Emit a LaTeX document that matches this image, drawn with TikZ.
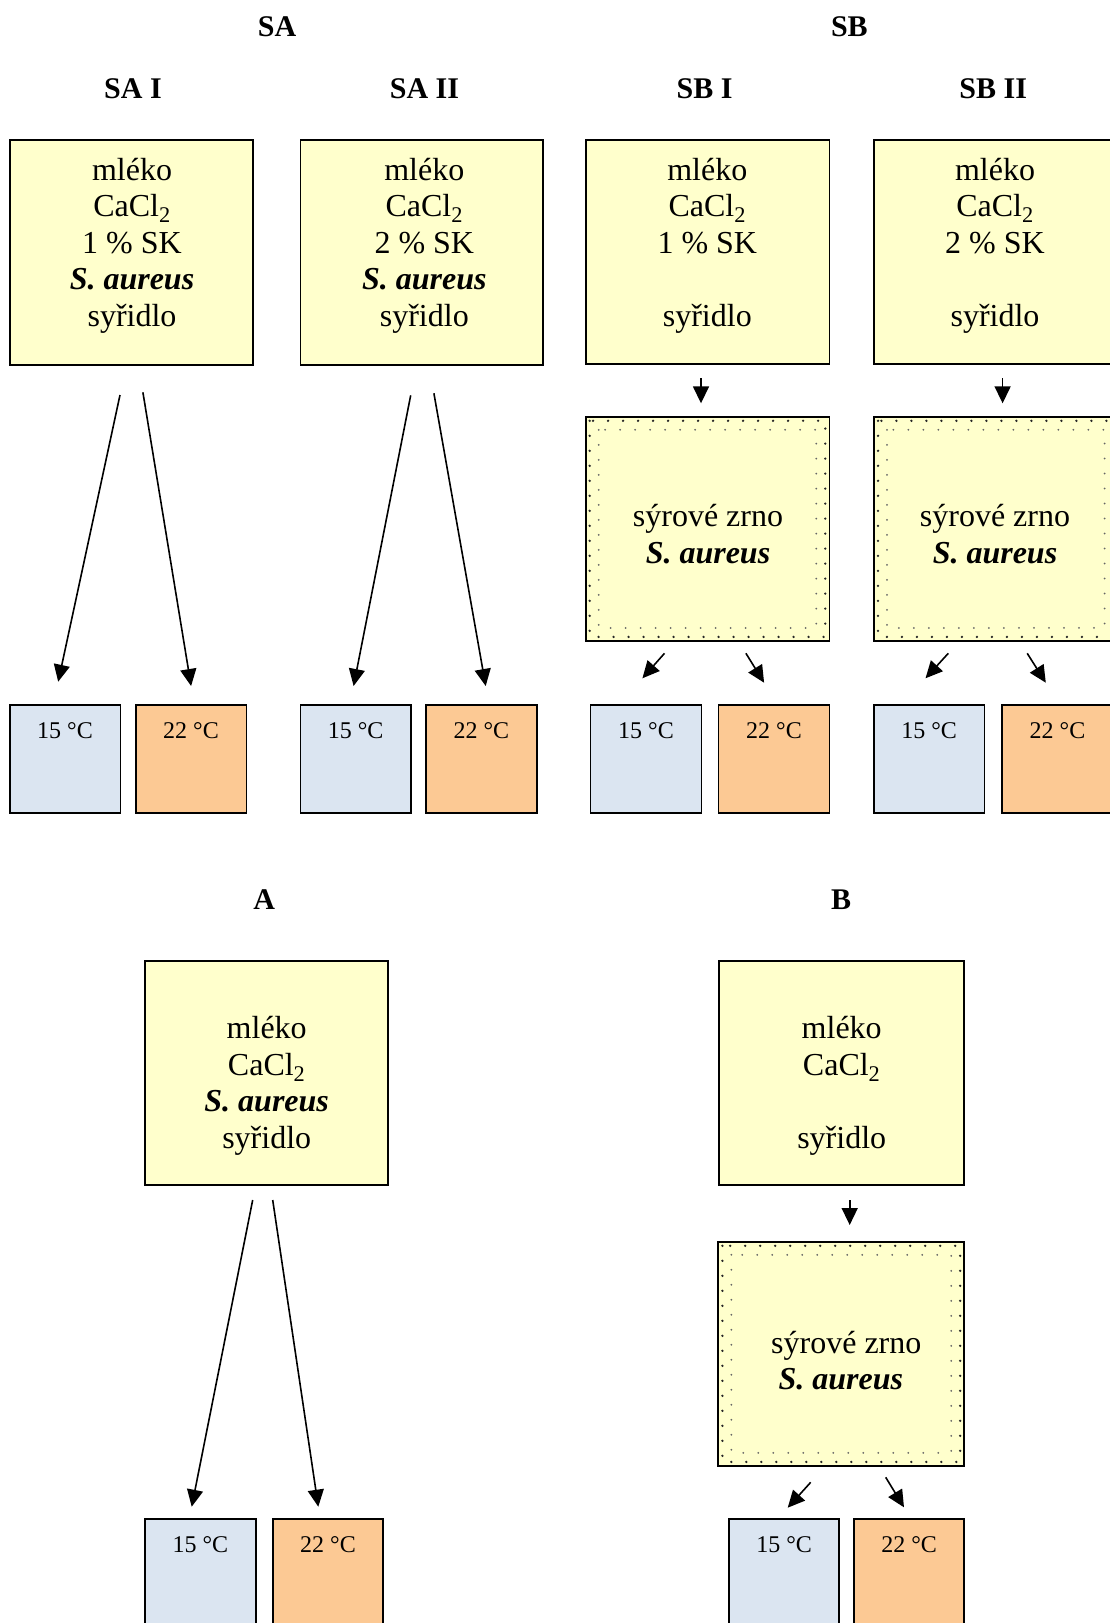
\documentclass[tikz,border=0pt]{standalone}
\usepackage{fontspec}
\setmainfont{Liberation Serif}
\usetikzlibrary{arrows.meta,fit}

\definecolor{milkyellow}{HTML}{FFFFCC}
\definecolor{coolblue}{HTML}{DBE5F1}
\definecolor{warmpeach}{HTML}{FCC994}

% text lines of a box: name, x, first baseline, list of index/text
\newcommand\linesat[4]{%
  \foreach \kk/\txt in {#4}{\node[boxline] (#1-\kk) at (#2,{#3+\kk*36.6}) {\txt};}}

% the two dotted rings inside a curd box
\newcommand\curdrings[1]{%
  \draw[outerdots] ([shift={(5,5)}]#1.north west) rectangle ([shift={(-5,-5)}]#1.south east);
  \draw[innerdots] ([shift={(14,14)}]#1.north west) rectangle ([shift={(-14,-14)}]#1.south east);}

\begin{document}
\begin{tikzpicture}[x=1pt,y=-1pt,
  mixbox/.style={draw, line width=1.8pt, fill=milkyellow, inner sep=0pt},
  coldbox/.style={draw, line width=1.8pt, fill=coolblue, inner sep=0pt},
  warmbox/.style={draw, line width=1.8pt, fill=warmpeach, inner sep=0pt},
  boxline/.style={anchor=base, inner sep=0pt, font=\fontsize{32}{38}\selectfont},
  templabel/.style={anchor=base, inner sep=0pt, font=\fontsize{24}{28}\selectfont},
  heading/.style={anchor=base, inner sep=0pt, font=\fontsize{30}{36}\selectfont\bfseries},
  flow/.style={line width=1.6pt, -{Triangle[length=17pt,width=16pt]}},
  outerdots/.style={line width=2.6pt, line cap=round, dash pattern=on 0pt off 15pt, draw=black!85},
  innerdots/.style={line width=2pt, line cap=round, dash pattern=on 0pt off 15pt, draw=black!60}]

\useasboundingbox (0,0) rectangle (1110,1623);
\clip (0,0) rectangle (1110,1623);

% headings
\node[heading] (tSA) at (277,36) {SA};
\node[heading] (tSB) at (849.4,36) {SB};
\node[heading] (tSA1) at (133,98.3) {SA I};
\node[heading] (tSA2) at (424.5,98.3) {SA II};
\node[heading] (tSB1) at (704.6,98.3) {SB I};
\node[heading] (tSB2) at (993.2,98.3) {SB II};
\node[heading] (tA) at (264.3,909.5) {A};
\node[heading] (tB) at (841,909.5) {B};

% milk mixtures
\node[mixbox, fit={(9.6,140) (252.9,365)}] (sa1) {};
\linesat{sa1}{132}{180}{0/mléko, 1/CaCl\textsubscript{2}, 2/1~\% SK, 3/\textbf{\textit{S. aureus}}, 4/syřidlo}
\node[mixbox, fit={(300.4,140) (543.2,365)}] (sa2) {};
\linesat{sa2}{424.3}{180}{0/mléko, 1/CaCl\textsubscript{2}, 2/2~\% SK, 3/\textbf{\textit{S. aureus}}, 4/syřidlo}
\node[mixbox, fit={(585.6,140) (829.4,364.3)}] (sb1) {};
\linesat{sb1}{707.3}{180}{0/mléko, 1/CaCl\textsubscript{2}, 2/1~\% SK, 4/syřidlo}
\node[mixbox, fit={(873.9,140) (1117.7,364.3)}] (sb2) {};
\linesat{sb2}{995}{180}{0/mléko, 1/CaCl\textsubscript{2}, 2/2~\% SK, 4/syřidlo}
\node[mixbox, fit={(145,960.7) (388.3,1185)}] (ma) {};
\linesat{ma}{266.7}{1038.5}{0/mléko, 1/CaCl\textsubscript{2}, 2/\textbf{\textit{S. aureus}}, 3/syřidlo}
\node[mixbox, fit={(719,960.7) (964.3,1185)}] (mb) {};
\linesat{mb}{841.7}{1038.5}{0/mléko, 1/CaCl\textsubscript{2}, 3/syřidlo}

% curd boxes
\node[mixbox, fit={(585.6,416.7) (829.4,641)}] (sb1g) {};
\curdrings{sb1g}
\linesat{sb1g}{708}{526.7}{0/sýrové zrno, 1/\textbf{\textit{S. aureus}}}
\node[mixbox, fit={(873.9,416.7) (1117.7,641)}] (sb2g) {};
\curdrings{sb2g}
\linesat{sb2g}{995}{526.7}{0/sýrové zrno, 1/\textbf{\textit{S. aureus}}}
\node[mixbox, fit={(718.3,1241.7) (964.3,1466)}] (bg) {};
\curdrings{bg}
\node[boxline] (bg-0) at (846.3,1353.3) {sýrové zrno};
\node[boxline] (bg-1) at (840.8,1389.3) {\textbf{\textit{S. aureus}}};

% ripening temperatures
\node[coldbox, fit={(9.6,705) (120.4,812.7)}] (sa1c) {};
\node[warmbox, fit={(135.7,705) (246.4,812.7)}] (sa1w) {};
\node[coldbox, fit={(300.4,705) (410.7,812.7)}] (sa2c) {};
\node[warmbox, fit={(426,705) (536.8,812.7)}] (sa2w) {};
\node[coldbox, fit={(590.5,705) (701.4,813.3)}] (sb1c) {};
\node[warmbox, fit={(718.5,705) (829.4,813.3)}] (sb1w) {};
\node[coldbox, fit={(873.9,705) (984.4,813.3)}] (sb2c) {};
\node[warmbox, fit={(1002,705) (1113,813.3)}] (sb2w) {};
\node[coldbox, fit={(145,1519) (255.7,1627)}] (ac) {};
\node[warmbox, fit={(272.7,1519) (383.3,1627)}] (aw) {};
\node[coldbox, fit={(729,1519) (839.3,1627)}] (bc) {};
\node[warmbox, fit={(854,1519) (964.3,1627)}] (bw) {};
\foreach \bx in {sa1c,sa2c,sb1c,sb2c,ac,bc}
  \node[templabel] (\bx-t) at ([yshift=-34pt]\bx.north) {15 °C};
\foreach \bx in {sa1w,sa2w,sb1w,sb2w,aw,bw}
  \node[templabel] (\bx-t) at ([yshift=-34pt]\bx.north) {22 °C};

% arrow ends
\coordinate (sa1-s1) at (120,395);    \coordinate (sa1-e1) at (58.2,681.7);
\coordinate (sa1-s2) at (142.9,392.3);\coordinate (sa1-e2) at (191.1,686);
\coordinate (sa2-s1) at (410.7,395.3);\coordinate (sa2-e1) at (353.6,686);
\coordinate (sa2-s2) at (433.9,393.3);\coordinate (sa2-e2) at (485.7,686);
\coordinate (sb1-s) at (701,378.3);   \coordinate (sb1-e) at (701,403.3);
\coordinate (sb1g-s1) at (664.5,653.3);\coordinate (sb1g-e1) at (642.4,678.3);
\coordinate (sb1g-s2) at (745.9,653.3);\coordinate (sb1g-e2) at (764.1,682.7);
\coordinate (sb2-s) at (1002.6,378.3);\coordinate (sb2-e) at (1002.6,403.3);
\coordinate (sb2g-s1) at (948.3,653.3);\coordinate (sb2g-e1) at (925.5,678.3);
\coordinate (sb2g-s2) at (1027.2,653.3);\coordinate (sb2g-e2) at (1045.8,682.7);
\coordinate (ma-s1) at (252.7,1200);  \coordinate (ma-e1) at (191.7,1506.7);
\coordinate (ma-s2) at (272.7,1200);  \coordinate (ma-e2) at (318.3,1506.7);
\coordinate (mb-s) at (849.7,1200);   \coordinate (mb-e) at (849.7,1225);
\coordinate (bg-s1) at (810.7,1482.3);\coordinate (bg-e1) at (787.7,1507.7);
\coordinate (bg-s2) at (885.7,1477.3);\coordinate (bg-e2) at (904,1507.3);

% arrows
\draw[flow] (sa1-s1) -- (sa1-e1);
\draw[flow] (sa1-s2) -- (sa1-e2);
\draw[flow] (sa2-s1) -- (sa2-e1);
\draw[flow] (sa2-s2) -- (sa2-e2);
\draw[flow] (sb1-s) -- (sb1-e);
\draw[flow] (sb1g-s1) -- (sb1g-e1);
\draw[flow] (sb1g-s2) -- (sb1g-e2);
\draw[flow] (sb2-s) -- (sb2-e);
\draw[flow] (sb2g-s1) -- (sb2g-e1);
\draw[flow] (sb2g-s2) -- (sb2g-e2);
\draw[flow] (ma-s1) -- (ma-e1);
\draw[flow] (ma-s2) -- (ma-e2);
\draw[flow] (mb-s) -- (mb-e);
\draw[flow] (bg-s1) -- (bg-e1);
\draw[flow] (bg-s2) -- (bg-e2);
\end{tikzpicture}
\end{document}
